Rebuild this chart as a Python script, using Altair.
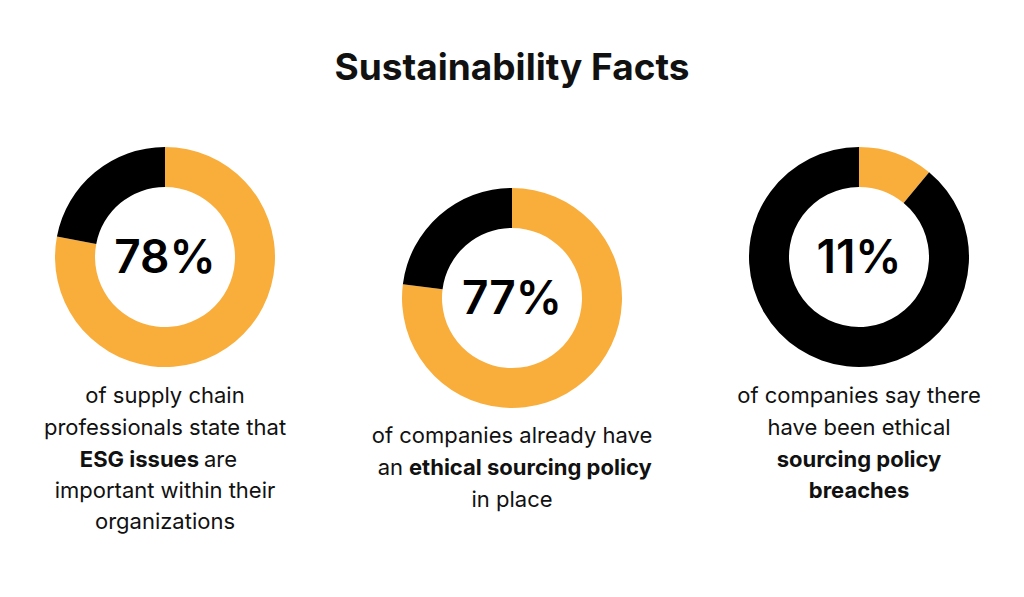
import altair as alt
import pandas as pd

# ---- data ----
stat_names = ["supply_chain", "ethical_policy", "breaches"]
stat_values = [78, 77, 11]
stat_labels = ["78%", "77%", "11%"]
parts = ["share", "rest"]

title_text = "Sustainability Facts"

rows = []
for name, v in zip(stat_names, stat_values):
    rows.append({"stat": name, "part": "share", "value": v, "ord": 0})
    rows.append({"stat": name, "part": "rest", "value": 100 - v, "ord": 1})
df = pd.DataFrame(rows)

ORANGE = "#F9AE3C"
BLACK = "#000000"
FONT = "Inter"

W, H = 1024, 597
centers = [(165, 257), (512, 298), (859, 257)]

base = alt.Chart(df)

layers = []
for name, lab, (cx, cy) in zip(stat_names, stat_labels, centers):
    arc = base.transform_filter(alt.datum.stat == name).mark_arc(
        innerRadius=70, outerRadius=110, stroke=None
    ).encode(
        theta=alt.Theta("value:Q", stack=True, scale=alt.Scale(domain=[0, 100])),
        color=alt.Color("part:N", scale=alt.Scale(domain=parts, range=[ORANGE, BLACK]), legend=None),
        order=alt.Order("ord:Q"),
        x=alt.value(cx),
        y=alt.value(cy),
    )
    layers.append(arc)
    pct = alt.Chart(pd.DataFrame({"t": [lab]})).mark_text(
        font=FONT, fontSize=46, fontWeight=600, color=BLACK, align="center", baseline="alphabetic"
    ).encode(text="t:N", x=alt.value(cx), y=alt.value(cy + 16))
    layers.append(pct)


def txt(s, x, y, align="center", weight=400, size=22):
    return alt.Chart(pd.DataFrame({"t": [s]})).mark_text(
        font=FONT, fontSize=size, fontWeight=weight, color="#111111", align=align,
        baseline="alphabetic"
    ).encode(text="t:N", x=alt.value(x), y=alt.value(y))


# title
layers.append(txt(title_text, 512, 80, weight=700, size=37))

# left caption
layers += [
    txt("of supply chain", 165, 403),
    txt("professionals state that", 165, 435),
    txt("ESG issues", 199, 467, align="right", weight=700),
    txt("are", 204, 467, align="left"),
    txt("important within their", 165, 498),
    txt("organizations", 165, 529),
]

# middle caption
layers += [
    txt("of companies already have", 512, 443),
    txt("an", 403, 475, align="right"),
    txt("ethical sourcing policy", 409, 475, align="left", weight=700),
    txt("in place", 512, 507),
]

# right caption
layers += [
    txt("of companies say there", 859, 403),
    txt("have been ethical", 859, 435),
    txt("sourcing policy", 859, 467, weight=700),
    txt("breaches", 859, 498, weight=700),
]

chart = alt.layer(*layers).resolve_scale(theta="independent").properties(
    width=W, height=H, padding=0, autosize=alt.AutoSizeParams(type="none"), background="white"
).configure_view(strokeWidth=0)

chart.save("out.html", embed_options={"renderer": "svg", "actions": False})
